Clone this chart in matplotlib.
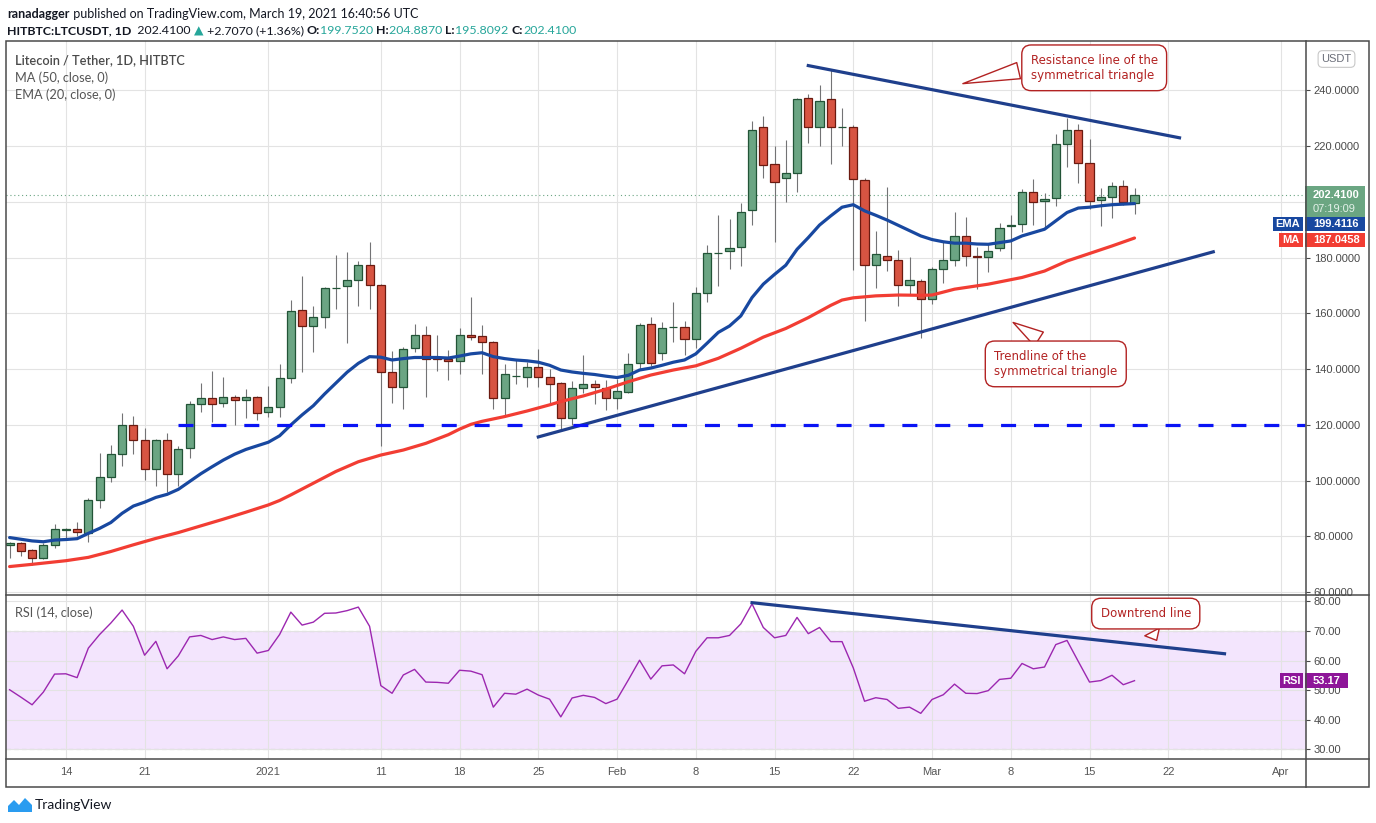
import numpy as np
import pandas as pd
import matplotlib
matplotlib.use("Agg")
import matplotlib.pyplot as plt
import matplotlib.dates as mdates
import matplotlib.transforms as mtransforms
from matplotlib.patches import Rectangle, Polygon
from matplotlib.lines import Line2D
from matplotlib.ticker import FuncFormatter

plt.rcParams['font.family'] = ['Lato', 'DejaVu Sans']

W, H = 1376, 823

# daily LTC/USDT candles
dates = pd.date_range("2020-12-09", "2021-03-19", freq="D")
opens = [76.8, 77.5, 75.0, 72.2, 76.8, 82.4, 82.6, 81.4, 93.1, 101.2,
         109.5, 119.9, 114.5, 104.3, 114.5, 102.3, 111.6, 127.4, 129.6, 127.8,
         130.0, 128.8, 130.0, 124.5, 126.3, 136.7, 161.1, 155.4, 158.6, 169.0,
         169.7, 171.9, 177.3, 170.1, 138.9, 133.5, 147.5, 152.2, 144.2, 143.7,
         142.8, 152.2, 151.8, 149.7, 129.6, 137.4, 137.1, 140.7, 137.1, 134.9,
         122.4, 133.2, 134.6, 133.2, 129.6, 131.7, 142.1, 156.1, 145.7, 155.0,
         155.3, 150.7, 167.5, 181.5, 182.4, 183.9, 197.2, 226.7, 213.5, 208.4,
         210.5, 237.2, 227.0, 236.8, 226.8, 227.0, 208.0, 177.4, 180.6, 179.3,
         170.3, 171.8, 165.3, 176.1, 179.0, 187.9, 180.7, 180.4, 183.3, 191.4,
         191.9, 203.6, 200.5, 201.4, 220.9, 225.9, 214.1, 200.8, 201.6, 205.7, 199.752]
highs = [78.0, 78.1, 75.5, 77.5, 84.5, 83.0, 85.1, 93.7, 110.0, 112.8,
         124.3, 123.2, 118.8, 114.8, 117.1, 112.3, 128.6, 135.1, 139.5, 137.2,
         130.8, 132.9, 130.5, 134.0, 141.9, 164.8, 173.4, 162.7, 169.4, 181.0,
         182.0, 178.8, 185.5, 170.5, 146.5, 147.9, 156.2, 155.5, 152.3, 146.9,
         154.8, 165.8, 155.9, 150.1, 141.9, 143.4, 142.6, 147.1, 140.0, 135.5,
         135.8, 145.1, 136.1, 136.1, 136.4, 145.7, 156.5, 158.6, 156.8, 164.1,
         157.3, 169.6, 184.5, 195.2, 193.8, 199.5, 228.9, 230.7, 220.0, 222.1,
         237.4, 238.7, 241.9, 247.3, 233.6, 227.5, 208.7, 189.5, 205.4, 182.7,
         180.4, 172.3, 176.5, 186.0, 196.5, 194.5, 183.9, 184.8, 192.3, 195.2,
         204.8, 208.1, 203.3, 224.4, 230.1, 227.9, 222.5, 205.1, 207.1, 208.0, 204.887]
lows = [72.2, 73.0, 69.8, 72.0, 75.8, 79.5, 80.2, 78.0, 90.3, 99.4,
        105.4, 109.7, 100.4, 98.2, 95.8, 98.2, 108.3, 124.8, 121.2, 126.6,
        120.1, 122.6, 121.9, 123.0, 123.0, 135.2, 139.1, 146.3, 154.9, 161.6,
        149.5, 162.8, 161.6, 112.6, 128.0, 125.6, 146.3, 130.2, 139.5, 136.1,
        138.4, 150.3, 138.4, 125.6, 123.0, 134.7, 133.6, 133.5, 127.8, 118.2,
        119.9, 131.4, 127.5, 125.4, 125.7, 131.4, 139.7, 141.2, 143.3, 149.9,
        145.1, 147.7, 164.1, 169.9, 175.8, 177.0, 191.7, 208.6, 185.6, 200.0,
        203.6, 221.3, 220.1, 213.5, 220.1, 175.6, 157.3, 169.1, 175.1, 162.7,
        167.1, 151.2, 163.5, 171.0, 177.0, 177.0, 168.9, 174.9, 182.4, 179.4,
        189.2, 191.6, 191.0, 198.6, 212.6, 206.9, 197.4, 191.4, 194.3, 199.0, 195.8092]
closes = [77.5, 74.8, 72.2, 76.8, 82.6, 82.6, 81.5, 93.1, 101.2, 109.5,
          119.9, 114.5, 104.3, 114.5, 102.3, 111.3, 127.4, 129.6, 127.4, 129.9,
          128.8, 129.9, 124.2, 126.3, 136.7, 160.8, 155.4, 158.6, 169.0, 169.3,
          171.9, 177.3, 170.1, 138.9, 133.5, 147.1, 152.2, 143.6, 143.6, 142.8,
          152.2, 151.7, 149.7, 129.6, 138.2, 137.5, 140.7, 137.1, 134.6, 122.4,
          133.2, 134.6, 133.5, 129.6, 132.1, 141.8, 155.8, 142.1, 154.7, 155.2,
          150.7, 167.5, 181.5, 181.8, 183.5, 196.5, 225.9, 213.4, 207.3, 210.5,
          236.8, 226.7, 236.3, 226.8, 226.9, 208.1, 177.4, 181.4, 179.3, 170.3,
          171.9, 165.3, 176.1, 179.0, 187.9, 180.7, 180.4, 182.5, 190.8, 191.6,
          203.6, 200.1, 201.2, 220.9, 225.9, 214.1, 200.5, 201.6, 205.7, 199.8, 202.41]

# EMA 20 (one value per candle)
ema20 = [79.6, 79.0, 78.4, 78.1, 78.7, 78.9, 79.2, 81.1, 82.9, 85.0,
         88.3, 90.9, 92.3, 94.0, 95.1, 96.9, 99.7, 102.5, 105.0, 107.4,
         109.5, 111.2, 112.5, 113.8, 116.1, 120.0, 123.6, 126.9, 131.1, 135.0,
         138.9, 142.1, 144.5, 144.3, 143.3, 143.8, 144.2, 144.2, 144.2, 144.0,
         144.7, 145.5, 145.9, 144.5, 143.8, 143.3, 143.0, 142.5, 141.4, 139.7,
         139.0, 138.5, 138.1, 137.5, 137.0, 137.8, 139.7, 140.4, 141.4, 142.5,
         143.3, 145.5, 149.3, 153.2, 155.5, 159.1, 165.7, 170.5, 174.0, 177.3,
         183.0, 187.2, 191.7, 195.0, 198.1, 199.0, 196.8, 195.2, 193.5, 191.6,
         189.7, 187.8, 186.5, 185.7, 185.2, 185.2, 184.9, 184.8, 185.4, 186.0,
         187.8, 189.0, 190.2, 193.2, 196.2, 197.8, 198.1, 198.6, 199.0, 199.2, 199.4116]

# MA 50 (read every few days)
ma_dates = pd.to_datetime([
    "2020-12-09", "2020-12-11", "2020-12-14", "2020-12-16", "2020-12-18", "2020-12-20",
    "2020-12-22", "2020-12-24", "2020-12-26", "2020-12-28", "2020-12-30",
    "2021-01-01", "2021-01-02", "2021-01-03", "2021-01-05", "2021-01-07", "2021-01-09",
    "2021-01-10", "2021-01-11", "2021-01-13", "2021-01-15", "2021-01-17", "2021-01-18",
    "2021-01-19", "2021-01-20", "2021-01-22", "2021-01-24", "2021-01-26", "2021-01-27",
    "2021-01-29", "2021-01-31",
    "2021-02-02", "2021-02-04", "2021-02-06", "2021-02-08", "2021-02-10", "2021-02-12",
    "2021-02-14", "2021-02-16", "2021-02-18", "2021-02-20", "2021-02-21", "2021-02-22",
    "2021-02-24", "2021-02-26", "2021-02-28",
    "2021-03-01", "2021-03-03", "2021-03-06", "2021-03-09", "2021-03-11", "2021-03-13",
    "2021-03-15", "2021-03-17", "2021-03-19"])
ma50 = [69.2, 70.0, 71.3, 72.5, 74.6, 77.0, 79.3, 81.4, 83.8, 86.2, 88.7,
        91.3, 92.9, 94.9, 99.1, 103.3, 106.8, 108.0, 109.2, 111.0, 113.4, 116.5, 118.5,
        120.2, 121.3, 123.0, 125.0, 127.2, 128.4, 130.4, 132.8,
        135.5, 137.9, 139.7, 141.2, 143.9, 147.5, 151.5, 154.6, 158.5, 162.9, 164.8, 165.6,
        166.3, 166.6, 166.5,
        166.6, 168.7, 170.5, 172.9, 175.2, 178.8, 181.5, 184.2, 187.0458]

# RSI 14 (one value per candle)
rsi14 = [50.1, 47.6, 45.0, 49.3, 55.4, 55.5, 54.2, 64.2, 68.8, 72.7,
         77.1, 71.6, 61.8, 66.5, 57.2, 61.6, 68.0, 68.5, 67.1, 68.0,
         67.1, 67.5, 62.5, 63.4, 68.8, 76.4, 72.0, 73.0, 76.0, 76.1,
         76.9, 78.1, 71.6, 51.5, 48.9, 55.1, 57.0, 52.7, 52.6, 52.3,
         56.7, 56.4, 55.2, 44.2, 48.9, 48.6, 50.3, 48.3, 46.9, 40.9,
         47.3, 48.2, 47.5, 45.4, 46.9, 53.4, 60.1, 53.7, 58.2, 58.5,
         55.5, 63.1, 67.7, 67.7, 68.5, 72.4, 79.2, 71.2, 67.7, 68.5,
         74.6, 69.1, 71.2, 66.4, 66.4, 57.5, 46.2, 47.4, 46.8, 43.8,
         44.2, 42.1, 46.8, 48.4, 52.0, 48.9, 48.8, 49.8, 53.6, 54.0,
         59.0, 57.2, 57.8, 65.4, 66.8, 59.7, 52.7, 53.2, 55.0, 51.8, 53.17]

# hand-drawn lines (end points)
resist_dates = pd.to_datetime(["2021-02-18", "2021-03-23"])
resist_vals = [248.9, 223.0]
support_dates = pd.to_datetime(["2021-01-25", "2021-03-26"])
support_vals = [115.7, 182.1]
rsi_trend_dates = pd.to_datetime(["2021-02-13", "2021-03-27"])
rsi_trend_vals = [79.6, 62.3]
level_start = pd.Timestamp("2020-12-24")
level_val = 120.0

tick_dates = pd.to_datetime(["2020-12-14", "2020-12-21", "2021-01-01", "2021-01-11",
                             "2021-01-18", "2021-01-25", "2021-02-01", "2021-02-08",
                             "2021-02-15", "2021-02-22", "2021-03-01", "2021-03-08",
                             "2021-03-15", "2021-03-22", "2021-04-01"])
tick_labels = ["14", "21", "2021", "11", "18", "25", "Feb", "8", "15", "22",
               "Mar", "8", "15", "22", "Apr"]
price_ticks = [60, 80, 100, 120, 140, 160, 180, 200, 220, 240]
hidden_price_tick = 200  # sits under the last-price tag
rsi_ticks = [30, 40, 50, 60, 70, 80]

GREEN, GREEN_EDGE = "#6ba583", "#225437"
RED, RED_EDGE = "#d75442", "#6b1a10"
EMA_C, MA_C, TREND_C = "#1848a0", "#f23d33", "#1f3f8c"
RSI_C = "#9c27b0"
NOTE_C = "#b22222"
AXIS_C = "#4a4a4a"
SCALE_FONT = "Liberation Sans"


def box(x0, y0, x1, y1):
    return [x0 / W, 1 - y1 / H, (x1 - x0) / W, (y1 - y0) / H]


fig = plt.figure(figsize=(W / 100, H / 100), dpi=100)
ax = fig.add_axes(box(6, 40.5, 1305.5, 595))
rax = fig.add_axes(box(6, 595, 1305.5, 758.5), sharex=ax)

o = np.array(opens); c = np.array(closes)
hi = np.array(highs); lo = np.array(lows)
up = c >= o
body_lo = np.minimum(o, c)
body_h = np.maximum(np.abs(c - o), 0.2)

ax.vlines(dates, lo, hi, color="#737375", lw=0.8, zorder=2)
ax.bar(dates[up], body_h[up], bottom=body_lo[up], width=0.72,
       color=GREEN, edgecolor=GREEN_EDGE, lw=0.9, zorder=3)
ax.bar(dates[~up], body_h[~up], bottom=body_lo[~up], width=0.72,
       color=RED, edgecolor=RED_EDGE, lw=0.9, zorder=3)

ax.plot(dates, ema20, color=EMA_C, lw=2.3, zorder=4, solid_capstyle="round")
ax.plot(ma_dates, ma50, color=MA_C, lw=2.3, zorder=4, solid_capstyle="round")
ax.plot(resist_dates, resist_vals, color=TREND_C, lw=2.3, zorder=5)
ax.plot(support_dates, support_vals, color=TREND_C, lw=2.3, zorder=5)

x_left = mdates.date2num(dates[0]) - 0.32
x_right = mdates.date2num(pd.Timestamp("2021-04-03")) + 0.2
ax.plot([mdates.date2num(level_start), x_right], [level_val, level_val],
        color="#0a14f5", lw=2.3, ls=(0, (4.7, 5.6)), zorder=5)
ax.axhline(closes[-1], color=GREEN, lw=0.8, ls=(0, (1, 2.5)), zorder=1)

ax.set_xlim(x_left, x_right)
ax.set_ylim(59.0, 257.9)
rax.set_ylim(26.8, 82.2)

# RSI pane
rax.axhspan(30, 70, color="#f3e5fd", lw=0, zorder=0.1)
rax.axhline(70, color="#a5a5a5", lw=0.8, ls=(0, (4, 3)), zorder=1)
rax.axhline(30, color="#a5a5a5", lw=0.8, ls=(0, (4, 3)), zorder=1)
rax.plot(dates, rsi14, color=RSI_C, lw=1.0, zorder=3)
rax.plot(rsi_trend_dates, rsi_trend_vals, color=TREND_C, lw=2.3, zorder=4)

for a in (ax, rax):
    for s in a.spines.values():
        s.set_visible(False)
    a.grid(True, color="#e3e3e3", lw=0.8)
    a.yaxis.tick_right()
    a.tick_params(axis="y", length=3, width=0.8, color=AXIS_C, labelcolor=AXIS_C,
                  labelsize=8, pad=3, labelfontfamily=SCALE_FONT)

ax.set_yticks(price_ticks)
ax.yaxis.set_major_formatter(FuncFormatter(
    lambda v, pos: "" if abs(v - hidden_price_tick) < 1e-6 else f"{v:.4f}"))
rax.set_yticks(rsi_ticks)
rax.yaxis.set_major_formatter(FuncFormatter(lambda v, pos: f"{v:.2f}"))
rax.set_xticks(tick_dates)
rax.set_xticklabels(tick_labels)
ax.tick_params(axis="x", length=0, labelbottom=False)
rax.tick_params(axis="x", length=0, labelsize=8, labelcolor="#555555", pad=6,
                labelfontfamily=SCALE_FONT)

# frame and separators
fig.add_artist(Rectangle((6 / W, 1 - 786.5 / H), (1369 - 6) / W, (786.5 - 40.5) / H,
                         transform=fig.transFigure, fill=False, ec=AXIS_C, lw=1.1))
for yy in (595, 758.5):
    fig.add_artist(Line2D([6 / W, 1369 / W], [1 - yy / H, 1 - yy / H],
                          transform=fig.transFigure, color=AXIS_C, lw=1.1))
fig.add_artist(Line2D([1305.5 / W, 1305.5 / W], [1 - 40.5 / H, 1 - 786.5 / H],
                      transform=fig.transFigure, color=AXIS_C, lw=1.1))


# value tags on the price scale
def tag(a, yc, ppu, x0, x1, hpx, fc, text):
    tr = mtransforms.blended_transform_factory(fig.transFigure, a.transData)
    h = hpx / ppu
    a.add_patch(Rectangle((x0 / W, yc - h / 2), (x1 - x0) / W, h, transform=tr,
                          fc=fc, ec="none", clip_on=False, zorder=10))
    inside = x1 < 1305
    a.text((x0 + x1) / 2 / W if inside else 1313 / W, yc, text, transform=tr,
           ha="center" if inside else "left", va="center", color="white",
           fontsize=8, fontweight="bold", fontfamily=SCALE_FONT, zorder=11, clip_on=False)


PPU, RPPU = 2.7875, 2.95
tr_main = mtransforms.blended_transform_factory(fig.transFigure, ax.transData)
last = closes[-1]
ax.add_patch(Rectangle((1305 / W, last - 21.9 / PPU), 60 / W, 30.6 / PPU, transform=tr_main,
                       fc="#6ba682", ec="none", clip_on=False, zorder=10))
ax.text(1313 / W, last, f"{last:.4f}", transform=tr_main, ha="left", va="center",
        color="white", fontsize=8, fontweight="bold", fontfamily=SCALE_FONT,
        zorder=11, clip_on=False)
ax.text(1313 / W, last - 13.5 / PPU, "07:19:09", transform=tr_main, ha="left", va="center",
        color="#e4f1e9", fontsize=8, fontfamily=SCALE_FONT, zorder=11, clip_on=False)
# EMA / MA tags stacked under the price tag
tag(ax, 191.9, PPU, 1305, 1365, 14, EMA_C, f"{ema20[-1]:.4f}")
tag(ax, 191.9, PPU, 1273, 1303, 14, EMA_C, "EMA")
tag(ax, 186.5, PPU, 1305, 1365, 14, MA_C, f"{ma50[-1]:.4f}")
tag(ax, 186.5, PPU, 1279, 1303, 14, MA_C, "MA")
tag(rax, rsi14[-1], RPPU, 1305, 1348, 15, "#8e1599", f"{rsi14[-1]:.2f}")
tag(rax, rsi14[-1], RPPU, 1280, 1303, 15, "#8e1599", "RSI")

fig.text(1336.5 / W, 1 - 59 / H, "USDT", ha="center", va="center", fontsize=8,
         color="#6a6d78", fontfamily=SCALE_FONT,
         bbox=dict(boxstyle="round,pad=0.3,rounding_size=0.4", fc="white", ec="#c8c8c8", lw=0.8))

# pane legends
fig.text(15 / W, 1 - 60.5 / H, "Litecoin / Tether, 1D, HITBTC", fontsize=9.2,
         fontweight="semibold", color="#4a4a4a", va="center")
fig.text(15 / W, 1 - 78 / H, "MA (50, close, 0)", fontsize=9.2, color="#555555", va="center")
fig.text(15 / W, 1 - 95 / H, "EMA (20, close, 0)", fontsize=9.2, color="#555555", va="center")
fig.text(15 / W, 1 - 613 / H, "RSI (14, close)", fontsize=9.2, color="#555555", va="center")

# callouts
note_kw = dict(fontsize=8.5, color=NOTE_C, fontfamily="DejaVu Sans", ha="center", va="center",
               multialignment="left", zorder=12,
               bbox=dict(boxstyle="round,pad=0.75,rounding_size=0.8", fc="white", ec=NOTE_C, lw=1.0))


def callout(a, text, tip, at, rel):
    a.annotate(text, xy=(mdates.date2num(tip[0]), tip[1]),
               xytext=(mdates.date2num(at[0]), at[1]),
               arrowprops=dict(arrowstyle="wedge,tail_width=1.4,shrink_factor=0.5",
                               fc="white", ec=NOTE_C, lw=1.0, relpos=rel),
               **note_kw)


callout(ax, "Resistance line of the\nsymmetrical triangle",
        (pd.Timestamp("2021-03-03 12:00"), 242.2), (pd.Timestamp("2021-03-15 10:00"), 248.1), (0.0, 0.5))
callout(ax, "Trendline of the\nsymmetrical triangle",
        (pd.Timestamp("2021-03-08"), 157.3), (pd.Timestamp("2021-03-12"), 141.9), (0.5, 1.0))
callout(rax, "Downtrend line",
        (pd.Timestamp("2021-03-21 02:00"), 66.0), (pd.Timestamp("2021-03-20"), 75.9), (0.5, 0.0))

# header
hax = fig.add_axes([0, 1 - 40 / H, 1, 40 / H])
hax.set_xlim(0, W)
hax.set_ylim(40, 0)
hax.axis("off")

DARK, TEAL = "#131722", "#26a69a"


def chain(x, y, parts, size=9.0):
    prev = None
    for s, weight, color in parts:
        if prev is None:
            prev = hax.text(x, y, s, fontsize=size, fontweight=weight, color=color,
                            va="bottom", ha="left")
        else:
            prev = hax.annotate(s, xy=(1, 0), xycoords=prev, fontsize=size, fontweight=weight,
                                color=color, va="bottom", ha="left")


chain(7, 20, [("ranadagger", "bold", DARK),
              (" published on TradingView.com, March 19, 2021 16:40:56 UTC", "normal", DARK)])
chain(7, 36.5, [("HITBTC:LTCUSDT, 1D", "bold", DARK), ("  202.4100 ", "normal", DARK),
                ("\u25b2", "normal", TEAL), (" +2.7070 (+1.36%) ", "normal", DARK),
                ("O:", "bold", DARK), ("199.7520 ", "normal", TEAL),
                ("H:", "bold", DARK), ("204.8870 ", "normal", TEAL),
                ("L:", "bold", DARK), ("195.8092 ", "normal", TEAL),
                ("C:", "bold", DARK), ("202.4100", "normal", TEAL)], size=8.95)

# footer logo
fig.add_artist(Polygon([(8 / W, 1 - 812 / H), (8 / W, 1 - 806 / H), (14 / W, 1 - 800 / H),
                        (19 / W, 1 - 805 / H), (25 / W, 1 - 798 / H), (32 / W, 1 - 805 / H),
                        (32 / W, 1 - 812 / H)], closed=True, transform=fig.transFigure,
                       fc="#2a9cf0", ec="none"))
fig.text(35 / W, 1 - 805 / H, "TradingView", fontsize=10, color=DARK, va="center")

fig.savefig("out.png", dpi=100, facecolor="white")
